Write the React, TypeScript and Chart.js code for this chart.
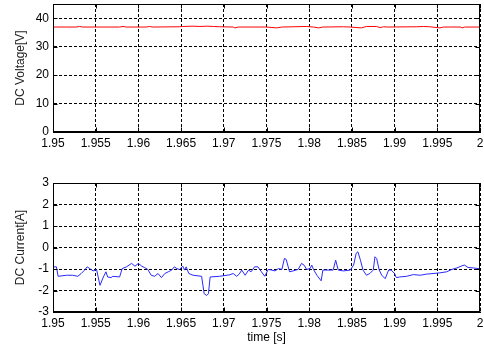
import React, { useEffect, useRef } from "react";
import { Chart, registerables } from "chart.js";
Chart.register(...registerables);

const X_TICKS = [1.95, 1.955, 1.96, 1.965, 1.97, 1.975, 1.98, 1.985, 1.99, 1.995, 2];
const VOLT_TICKS = [0, 10, 20, 30, 40];
const CURR_TICKS = [-3, -2, -1, 0, 1, 2, 3];

const VOLT_T = [1.95, 1.9527, 1.9531, 1.9535, 1.9578, 1.9582, 1.9586, 1.9609, 1.9613, 1.9617, 1.9648, 1.9652, 1.9664, 1.9672, 1.968, 1.9688, 1.9695, 1.9711, 1.9713, 1.9717, 1.975, 1.9762, 1.9768, 1.9797, 1.9805, 1.9811, 1.9816, 1.984, 1.9848, 1.9861, 1.9867, 1.9879, 1.9883, 1.9887, 1.9891, 1.9926, 1.9934, 1.9941, 1.9953, 1.9957, 1.9977, 1.9979, 1.9982, 2.0];
const VOLT_V = [36.9, 36.9, 37.1, 36.9, 36.9, 37.1, 36.9, 36.9, 37.1, 36.9, 37.0, 37.1, 37.2, 37.1, 37.2, 37.1, 37.0, 36.9, 36.6, 36.9, 36.9, 36.6, 36.9, 37.1, 36.9, 36.6, 36.9, 37.0, 36.9, 36.6, 37.1, 37.1, 36.7, 37.0, 36.9, 37.0, 37.1, 37.0, 36.6, 36.9, 36.9, 36.6, 36.9, 36.9];

const CURR_T = [1.95, 1.9504, 1.9506, 1.9516, 1.9523, 1.9529, 1.9533, 1.9537, 1.954, 1.9543, 1.9547, 1.9551, 1.9555, 1.9559, 1.9562, 1.9564, 1.9568, 1.957, 1.9578, 1.9581, 1.9586, 1.9592, 1.9596, 1.96, 1.9604, 1.9607, 1.9611, 1.9615, 1.9619, 1.9623, 1.9627, 1.9631, 1.9635, 1.9639, 1.9642, 1.9645, 1.9648, 1.9652, 1.9654, 1.9656, 1.9659, 1.9664, 1.9674, 1.9677, 1.968, 1.9682, 1.9684, 1.9695, 1.9707, 1.9711, 1.9715, 1.9718, 1.9721, 1.9725, 1.9729, 1.9732, 1.9736, 1.974, 1.9744, 1.9748, 1.9752, 1.9756, 1.976, 1.9764, 1.9768, 1.9771, 1.9773, 1.9777, 1.9781, 1.9787, 1.9791, 1.9794, 1.9797, 1.9801, 1.9803, 1.9805, 1.9809, 1.9814, 1.9816, 1.9828, 1.9831, 1.9834, 1.984, 1.9848, 1.9852, 1.9855, 1.9857, 1.986, 1.9863, 1.9867, 1.9871, 1.9875, 1.9877, 1.9879, 1.9882, 1.9885, 1.9889, 1.9893, 1.9896, 1.99, 1.9902, 1.9906, 1.9914, 1.9922, 1.993, 1.9937, 1.9945, 1.9953, 1.9961, 1.9967, 1.9973, 1.9979, 1.9982, 1.9986, 1.9992, 2.0];
const CURR_V = [-0.9, -0.9, -1.34, -1.29, -1.29, -1.34, -1.21, -1.05, -0.9, -0.98, -1.09, -1.02, -1.76, -1.37, -1.13, -1.37, -1.4, -1.34, -1.37, -0.98, -0.9, -0.74, -0.87, -0.74, -0.87, -0.93, -1.02, -1.29, -1.34, -1.21, -1.4, -1.21, -1.13, -1.05, -0.9, -0.98, -1.02, -0.87, -1.05, -0.9, -1.21, -1.29, -1.34, -2.15, -2.23, -2.15, -1.37, -1.34, -1.27, -1.21, -1.34, -1.24, -1.05, -1.29, -1.05, -1.13, -0.9, -0.9, -1.13, -1.34, -1.02, -1.05, -1.09, -0.98, -1.02, -0.51, -0.55, -1.13, -1.09, -1.02, -0.74, -0.82, -1.02, -0.98, -0.82, -1.02, -1.29, -1.55, -1.05, -1.05, -0.59, -1.05, -1.09, -1.05, -0.82, -0.27, -0.2, -0.59, -1.05, -1.29, -1.21, -1.05, -0.43, -0.51, -1.05, -1.29, -1.45, -1.05, -1.05, -1.21, -1.4, -1.37, -1.34, -1.26, -1.29, -1.24, -1.21, -1.18, -1.13, -1.02, -0.95, -0.85, -0.82, -0.93, -0.95, -0.99];

const FONT = "'Liberation Sans', Arial, Helvetica, sans-serif";
const TICK_LEN = 4;

const boxPlugin = {
  id: "matlabBox",
  afterDraw(chart: any) {
    const { ctx, chartArea: a, scales } = chart;
    ctx.save();
    ctx.strokeStyle = "#000";
    ctx.lineWidth = 1;
    ctx.setLineDash([]);
    const l = Math.round(a.left) + 0.5;
    const t = Math.round(a.top) + 0.5;
    const r = Math.round(a.right) - 0.5;
    const b = Math.round(a.bottom) - 0.5;
    ctx.strokeRect(l, t, r - l, b - t);
    ctx.beginPath();
    for (const tk of scales.x.ticks) {
      const px = Math.round(scales.x.getPixelForValue(tk.value)) + 0.5;
      ctx.moveTo(px, b);
      ctx.lineTo(px, b - TICK_LEN);
      ctx.moveTo(px, t);
      ctx.lineTo(px, t + TICK_LEN);
    }
    for (const tk of scales.y.ticks) {
      const py = Math.round(scales.y.getPixelForValue(tk.value)) + 0.5;
      ctx.moveTo(l, py);
      ctx.lineTo(l + TICK_LEN, py);
      ctx.moveTo(r, py);
      ctx.lineTo(r - TICK_LEN, py);
    }
    ctx.stroke();
    ctx.restore();
  },
};

function makeConfig(
  xs: number[],
  ys: number[],
  color: string,
  yMin: number,
  yMax: number,
  yTicks: number[],
  yTitle: string,
  xTitle: string | null,
  padTop: number,
  xAxisHeight: number
): any {
  return {
    type: "line",
    data: {
      datasets: [
        {
          data: xs.map((x, i) => ({ x, y: ys[i] })),
          borderColor: color,
          borderWidth: 1,
          pointRadius: 0,
          tension: 0,
          fill: false,
        },
      ],
    },
    options: {
      animation: false,
      responsive: false,
      maintainAspectRatio: false,
      layout: { padding: { top: padTop, right: 4, left: 0, bottom: 0 } },
      plugins: { legend: { display: false }, tooltip: { enabled: false } },
      scales: {
        x: {
          type: "linear",
          min: 1.95,
          max: 2,
          afterBuildTicks: (axis: any) => {
            axis.ticks = X_TICKS.map((v) => ({ value: v }));
          },
          afterFit: (scale: any) => {
            scale.height = xAxisHeight;
            scale.paddingLeft = 0;
            scale.paddingRight = 0;
          },
          ticks: {
            color: "#000",
            font: { family: FONT, size: 12 },
            padding: 4,
            maxRotation: 0,
            autoSkip: false,
            callback: (v: any) => String(Number(Number(v).toFixed(3))),
          },
          grid: {
            color: "#000",
            lineWidth: 1,
            drawTicks: false,
          },
          border: { display: true, color: "#000", dash: [3, 2] },
          title: xTitle
            ? {
                display: true,
                text: xTitle,
                color: "#000",
                font: { family: FONT, size: 12 },
                padding: { top: 0, bottom: 3 },
              }
            : { display: false },
        },
        y: {
          type: "linear",
          min: yMin,
          max: yMax,
          afterBuildTicks: (axis: any) => {
            axis.ticks = yTicks.map((v) => ({ value: v }));
          },
          afterFit: (scale: any) => {
            scale.width = 53;
            scale.paddingTop = 0;
            scale.paddingBottom = 0;
          },
          ticks: {
            color: "#000",
            font: { family: FONT, size: 12 },
            padding: 4,
            autoSkip: false,
          },
          grid: {
            color: "#000",
            lineWidth: 1,
            drawTicks: false,
          },
          border: { display: true, color: "#000", dash: [3, 2] },
          title: {
            display: true,
            text: yTitle,
            color: "#222",
            font: { family: FONT, size: 12 },
            padding: { top: 13, bottom: 0 },
          },
        },
      },
    },
    plugins: [boxPlugin],
  };
}

function SubPlot(props: { cfg: any; top: number; height: number }) {
  const ref = useRef<HTMLCanvasElement | null>(null);
  useEffect(() => {
    if (!ref.current) return;
    const chart = new Chart(ref.current, props.cfg);
    return () => chart.destroy();
  }, []);
  return (
    <canvas
      ref={ref}
      width={484}
      height={props.height}
      style={{ position: "absolute", left: 0, top: props.top, width: 484, height: props.height }}
    />
  );
}

export default function App() {
  const topCfg = makeConfig(VOLT_T, VOLT_V, "#ff0000", 0, 45, VOLT_TICKS, "DC Voltage[V]", null, 4, 28);
  const botCfg = makeConfig(CURR_T, CURR_V, "#2828ff", -3, 3, CURR_TICKS, "DC Current[A]", "time [s]", 13, 36);
  return (
    <div style={{ position: "absolute", left: 0, top: 0, width: 484, height: 348, background: "#fff" }}>
      <SubPlot cfg={topCfg} top={0} height={160} />
      <SubPlot cfg={botCfg} top={170} height={178} />
    </div>
  );
}
